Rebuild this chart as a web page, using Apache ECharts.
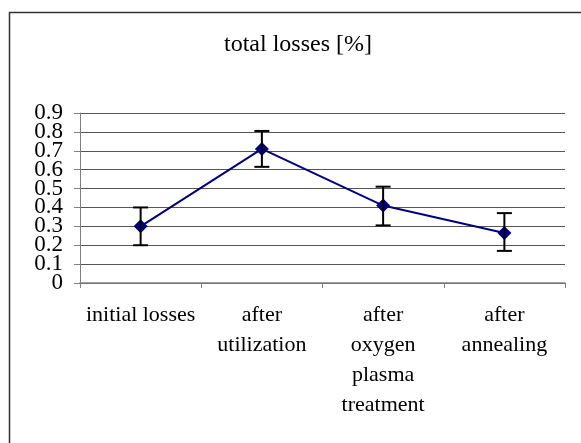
<!DOCTYPE html>
<html>
<head>
<meta charset="utf-8">
<style>html,body{margin:0;padding:0;background:#fff}#c{width:581px;height:443px}</style>
<script src="https://cdn.jsdelivr.net/npm/echarts@6/dist/echarts.min.js"></script>
</head>
<body>
<div id="c"></div>
<script>
var categories = ['initial losses', 'after\nutilization', 'after\noxygen\nplasma\ntreatment', 'after\nannealing'];
var values = [0.30, 0.71, 0.41, 0.265];
var errLow = [0.20, 0.615, 0.305, 0.17];
var errHigh = [0.40, 0.805, 0.51, 0.37];
var titleText = 'total losses [%]';
var yMin = 0, yMax = 0.9, yStep = 0.1;

var chart = echarts.init(document.getElementById('c'), null, {renderer: 'canvas'});
var font = '"Liberation Serif", "Times New Roman", serif';
var errData = categories.map(function (c, i) { return [i, errLow[i], errHigh[i]]; });

function yLabel(parity) {
  return function (v) {
    var k = Math.round(v / yStep);
    if (k % 2 !== parity) return '';
    return k === 0 ? '0' : v.toFixed(1);
  };
}
function yAxisDef(parity, main) {
  return {
    type: 'value', min: yMin, max: yMax, interval: yStep, position: 'left',
    axisLine: {show: main, lineStyle: {color: '#808080', width: 1}},
    axisTick: {show: main, length: 6, lineStyle: {color: '#808080'}},
    splitLine: {show: main, lineStyle: {color: '#555', width: 1}},
    axisLabel: {fontFamily: font, fontSize: 23, color: '#000', margin: 17,
      showMinLabel: true, showMaxLabel: true, hideOverlap: false,
      formatter: yLabel(parity)}
  };
}

chart.setOption({
  animation: false,
  backgroundColor: '#fff',
  title: {
    text: titleText, left: 219, top: 28,
    textStyle: {fontFamily: font, fontSize: 24, fontWeight: 'normal', color: '#000'}
  },
  graphic: [{
    type: 'rect', shape: {x: 9.5, y: 12.5, width: 600, height: 500},
    style: {fill: 'none', stroke: '#333', lineWidth: 1.5}, silent: true
  }],
  grid: {left: 80, right: 16, top: 113, bottom: 160, containLabel: false},
  xAxis: {
    type: 'category', data: categories, boundaryGap: true,
    axisLine: {lineStyle: {color: '#808080', width: 1.5}},
    axisTick: {show: true, length: 5, lineStyle: {color: '#808080'}},
    axisLabel: {fontFamily: font, fontSize: 22, color: '#000', margin: 17, lineHeight: 30, interval: 0}
  },
  yAxis: [yAxisDef(0, true), yAxisDef(1, false)],
  series: [{
    type: 'line', data: values, symbol: 'diamond', symbolSize: 14, yAxisIndex: 0,
    lineStyle: {color: '#000080', width: 2}, itemStyle: {color: '#000080'}, z: 3
  }, {
    type: 'custom', data: errData, z: 4, yAxisIndex: 0,
    renderItem: function (params, api) {
      var x = api.value(0);
      var lo = api.coord([x, api.value(1)]);
      var hi = api.coord([x, api.value(2)]);
      var hw = 7.5;
      var st = {stroke: '#000', lineWidth: 2, fill: 'none'};
      return {type: 'group', children: [
        {type: 'line', shape: {x1: lo[0], y1: lo[1], x2: hi[0], y2: hi[1]}, style: st},
        {type: 'line', shape: {x1: lo[0] - hw, y1: lo[1], x2: lo[0] + hw, y2: lo[1]}, style: st},
        {type: 'line', shape: {x1: hi[0] - hw, y1: hi[1], x2: hi[0] + hw, y2: hi[1]}, style: st}
      ]};
    }
  }]
});
</script>
</body>
</html>
